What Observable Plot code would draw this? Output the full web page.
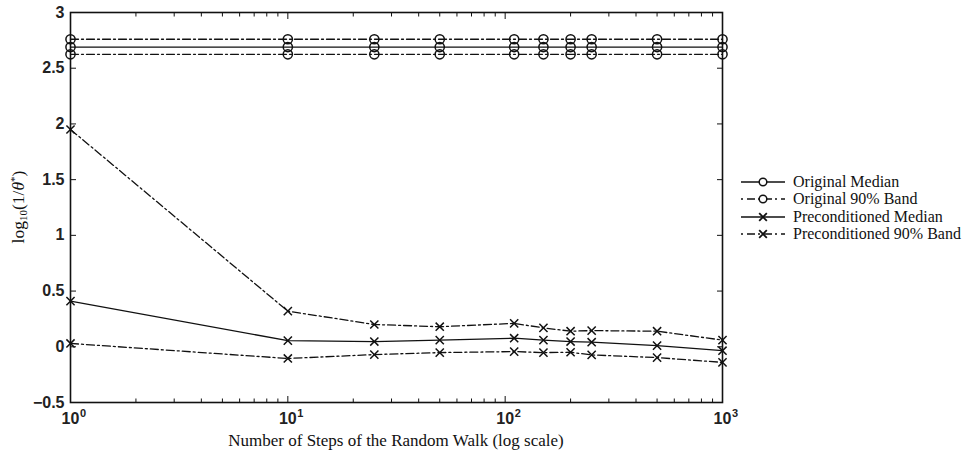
<!DOCTYPE html>
<html>
<head>
<meta charset="utf-8">
<script src="https://cdn.jsdelivr.net/npm/d3@7"></script>
<script src="https://cdn.jsdelivr.net/npm/@observablehq/plot@0.6"></script>
<style>
  html, body { margin: 0; padding: 0; background: #fff; }
  #wrap { position: relative; width: 968px; height: 453px; overflow: hidden; }
  .serif { font-family: "Liberation Serif", "DejaVu Serif", serif; color: #111; }
  #xlabel { position: absolute; left: 70px; width: 652px; top: 431px; text-align: center; font-size: 17px; }
  #ylabel { position: absolute; left: 18px; top: 207px; transform: translate(-50%, -50%) rotate(-90deg); white-space: nowrap; font-size: 17.5px; }
  #ylabel sub { font-size: 11px; vertical-align: -3px; }
  #ylabel sup { font-size: 11px; vertical-align: 6px; }
  #legend { position: absolute; left: 740px; top: 173px; }
  .lrow { display: flex; align-items: center; height: 17.5px; font-size: 16px; white-space: nowrap; }
  .lrow svg { margin-right: 5px; }
</style>
</head>
<body>
<div id="wrap"></div>
<script>
// ---- data ----
const steps = [1, 10, 25, 50, 110, 150, 200, 250, 500, 1000];
const originalMedian = [2.69, 2.69, 2.69, 2.69, 2.69, 2.69, 2.69, 2.69, 2.69, 2.69];
const originalUpper  = [2.76, 2.76, 2.76, 2.76, 2.76, 2.76, 2.76, 2.76, 2.76, 2.76];
const originalLower  = [2.625, 2.625, 2.625, 2.625, 2.625, 2.625, 2.625, 2.625, 2.625, 2.625];
const precondMedian  = [0.41, 0.055, 0.047, 0.06, 0.077, 0.06, 0.047, 0.041, 0.01, -0.035];
const precondUpper   = [1.95, 0.32, 0.20, 0.18, 0.21, 0.17, 0.14, 0.145, 0.14, 0.06];
const precondLower   = [0.03, -0.105, -0.07, -0.052, -0.043, -0.052, -0.049, -0.073, -0.097, -0.14];

const seriesNames = ["Original Median", "Original 90% Band", "Preconditioned Median", "Preconditioned 90% Band"];
const yTicks = [-0.5, 0, 0.5, 1, 1.5, 2, 2.5, 3];
const yTickLabels = ["\u22120.5", "0", "0.5", "1", "1.5", "2", "2.5", "3"];
const xMajorTicks = [1, 10, 100, 1000];
const xTickBase = "10";
const xTickExponents = ["0", "1", "2", "3"];
const xMinorTicks = [2,3,4,5,6,7,8,9,20,30,40,50,60,70,80,90,200,300,400,500,600,700,800,900];

// ---- build tables ----
function table(vals, group) { return steps.map((s, i) => ({step: s, value: vals[i], group})); }
const dashDot = "8,3,2,3";
const lines = [
  {data: table(originalMedian, "om"), dash: null, symbol: "circle"},
  {data: table(originalUpper, "ou"), dash: dashDot, symbol: "circle"},
  {data: table(originalLower, "ol"), dash: dashDot, symbol: "circle"},
  {data: table(precondMedian, "pm"), dash: null, symbol: "times"},
  {data: table(precondUpper, "pu"), dash: dashDot, symbol: "times"},
  {data: table(precondLower, "pl"), dash: dashDot, symbol: "times"}
];

const xExpOf = new Map(xMajorTicks.map((t, i) => [t, xTickExponents[i]]));
const yLabelOf = new Map(yTicks.map((t, i) => [t, yTickLabels[i]]));

const ink = "#111";
const marks = [];
for (const L of lines) {
  marks.push(Plot.line(L.data, {x: "step", y: "value", stroke: ink, strokeWidth: 1.3, strokeDasharray: L.dash}));
}
for (const L of lines) {
  marks.push(Plot.dot(L.data, {x: "step", y: "value", symbol: L.symbol, r: L.symbol === "circle" ? 4.6 : 3.8, stroke: ink, strokeWidth: 1.5, fill: "none"}));
}

const chart = Plot.plot({
  width: 968,
  height: 453,
  marginLeft: 70,
  marginRight: 246,
  marginTop: 12,
  marginBottom: 51,
  style: {background: "#fff", color: ink, fontFamily: "'Liberation Sans', Arial, sans-serif", fontSize: "16px"},
  x: {type: "log", domain: [1, 1000]},
  y: {domain: [-0.5, 3]},
  marks: [
    Plot.axisY({ticks: yTicks, tickSize: 0, tickPadding: 6, tickFormat: d => yLabelOf.get(d), label: null, fontSize: 16, fontWeight: "bold", fill: "#222"}),
    Plot.axisY({ticks: yTicks, anchor: "left", tickSize: -6, fill: "none", label: null}),
    Plot.axisY({ticks: yTicks, anchor: "right", tickSize: -6, fill: "none", label: null}),
    // x tick labels: base "10" with superscript exponent
    Plot.text(xMajorTicks, {x: d => d, text: () => xTickBase, frameAnchor: "bottom", dy: 21, fontSize: 16, fontWeight: "bold", fill: "#222"}),
    Plot.text(xMajorTicks, {x: d => d, text: d => xExpOf.get(d), frameAnchor: "bottom", dx: 9.5, dy: 14, textAnchor: "start", fontSize: 11, fontWeight: "bold", fill: "#222"}),
    Plot.axisX({ticks: xMajorTicks, anchor: "bottom", tickSize: -6, fill: "none", label: null}),
    Plot.axisX({ticks: xMinorTicks, anchor: "bottom", tickSize: -3.5, fill: "none", label: null}),
    Plot.axisX({ticks: xMajorTicks, anchor: "top", tickSize: -6, fill: "none", label: null}),
    Plot.axisX({ticks: xMinorTicks, anchor: "top", tickSize: -3.5, fill: "none", label: null}),
    Plot.frame({stroke: ink, strokeWidth: 1.6}),
    ...marks
  ]
});

const wrap = document.getElementById("wrap");
wrap.appendChild(chart);

const xl = document.createElement("div");
xl.id = "xlabel"; xl.className = "serif";
xl.textContent = "Number of Steps of the Random Walk (log scale)";
wrap.appendChild(xl);

const yl = document.createElement("div");
yl.id = "ylabel"; yl.className = "serif";
yl.innerHTML = "log<sub>10</sub>(1/<i>θ</i><sup>*</sup>)";
wrap.appendChild(yl);

// legend
const legend = document.createElement("div");
legend.id = "legend"; legend.className = "serif";
const legendSpec = [
  {dash: null, symbol: "circle"},
  {dash: dashDot, symbol: "circle"},
  {dash: null, symbol: "times"},
  {dash: dashDot, symbol: "times"}
];
seriesNames.forEach((name, i) => {
  const spec = legendSpec[i];
  const row = document.createElement("div");
  row.className = "lrow";
  const svg = d3.create("svg").attr("width", 48).attr("height", 12);
  svg.append("line").attr("x1", 1).attr("x2", 45).attr("y1", 6).attr("y2", 6)
    .attr("stroke", ink).attr("stroke-width", 1.4)
    .attr("stroke-dasharray", spec.dash ? "2,4,8,3" : null);
  if (spec.symbol === "circle") {
    svg.append("circle").attr("cx", 23).attr("cy", 6).attr("r", 3.8).attr("fill", "#fff").attr("stroke", ink).attr("stroke-width", 1.5);
  } else {
    svg.append("path").attr("d", d3.symbol(d3.symbolTimes, 40)()).attr("transform", "translate(23,6)").attr("fill", "none").attr("stroke", ink).attr("stroke-width", 1.8);
  }
  row.appendChild(svg.node());
  const t = document.createElement("span");
  t.textContent = name;
  row.appendChild(t);
  legend.appendChild(row);
});
wrap.appendChild(legend);
</script>
</body>
</html>
